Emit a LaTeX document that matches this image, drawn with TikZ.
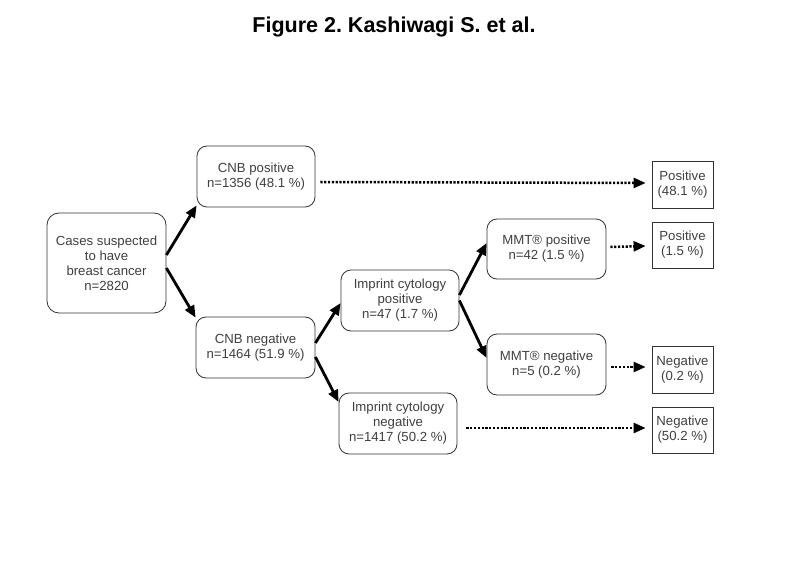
\documentclass[tikz,border=0pt]{standalone}
\usepackage{fontspec}
\setmainfont{Liberation Sans}
\usetikzlibrary{arrows.meta}
\definecolor{txt}{gray}{0.25}
\definecolor{edge}{gray}{0.2}
\frenchspacing
\begin{document}
\begin{tikzpicture}[x=1pt,y=-1pt,
  rbox/.style={draw=edge,line width=0.8pt,rounded corners=10pt,align=center,
    inner sep=0pt,font=\fontsize{13.2}{15}\selectfont,text=txt},
  sbox/.style={draw=edge,line width=0.8pt,align=center,inner sep=0pt,
    minimum width=61pt,font=\fontsize{13.2}{15}\selectfont,text=txt},
  solidarrow/.style={line width=2.8pt,-{Triangle[length=12pt,width=10pt]}},
  dotarrow/.style={line width=2.5pt,dash pattern=on 2.2pt off 1.6pt,
    -{Triangle[length=12pt,width=10pt]}}]
\useasboundingbox (0,0) rectangle (785,588);
\fill[white] (0,0) rectangle (785,588);
\node (title) at (394,27) {\fontsize{21.5}{24}\selectfont\bfseries Figure 2. Kashiwagi S. et al.};

\node[rbox,minimum width=119pt,minimum height=100pt,rounded corners=12pt] (cases) at (106.5,263)
  {Cases suspected\\to have\\breast cancer\\n=2820};
\node[rbox,minimum width=118pt,minimum height=61pt] (cnbp) at (256,176.5)
  {CNB positive\\n=1356 (48.1 \%)};
\node[rbox,minimum width=119pt,minimum height=61pt] (cnbn) at (255.5,347.5)
  {CNB negative\\n=1464 (51.9 \%)};
\node[rbox,minimum width=118pt,minimum height=61pt] (ipos) at (400,300.5)
  {Imprint cytology\\positive\\n=47 (1.7 \%)};
\node[rbox,minimum width=118pt,minimum height=61pt] (ineg) at (398,423.5)
  {Imprint cytology\\negative\\n=1417 (50.2 \%)};
\node[rbox,minimum width=119pt,minimum height=60pt] (mpos) at (546.5,249)
  {MMT® positive\\n=42 (1.5 \%)};
\node[rbox,minimum width=119pt,minimum height=61pt] (mneg) at (546.5,364.5)
  {MMT® negative\\n=5 (0.2 \%)};

\node[sbox,minimum height=47pt] (r1) at (682.5,184.5) {Positive\\(48.1 \%)};
\node[sbox,minimum height=46pt] (r2) at (682.5,245) {Positive\\(1.5 \%)};
\node[sbox,minimum height=47pt] (r3) at (682.5,369.5) {Negative\\(0.2 \%)};
\node[sbox,minimum height=46pt] (r4) at (682.5,430) {Negative\\(50.2 \%)};

\draw[solidarrow] ([yshift=8pt]cases.east) -- ([yshift=2pt]cnbp.south west);
\draw[solidarrow] ([yshift=-5pt]cases.east) -- ([yshift=-1pt]cnbn.north west);
\draw[solidarrow] ([yshift=4.5pt]cnbn.east) -- ([yshift=-2.5pt]ipos.west);
\draw[solidarrow] ([yshift=-9.5pt]cnbn.east) -- ([yshift=21.5pt]ineg.west);
\draw[solidarrow] ([yshift=5.5pt]ipos.east) -- ([yshift=6pt]mpos.west);
\draw[solidarrow] ([yshift=0pt]ipos.east) -- ([yshift=6.5pt]mneg.west);

\draw[dotarrow] ([xshift=5pt,yshift=-5.5pt]cnbp.east) -- ([xshift=-6pt,yshift=1.5pt]r1.west);
\draw[dotarrow] ([xshift=4pt,yshift=2pt]mpos.east) -- ([xshift=-6pt,yshift=-1pt]r2.west);
\draw[dotarrow] ([xshift=5pt,yshift=-2.5pt]mneg.east) -- ([xshift=-6pt,yshift=2.5pt]r3.west);
\draw[dotarrow] ([xshift=9pt,yshift=-4.5pt]ineg.east) -- ([xshift=-6pt,yshift=2pt]r4.west);
\end{tikzpicture}
\end{document}
